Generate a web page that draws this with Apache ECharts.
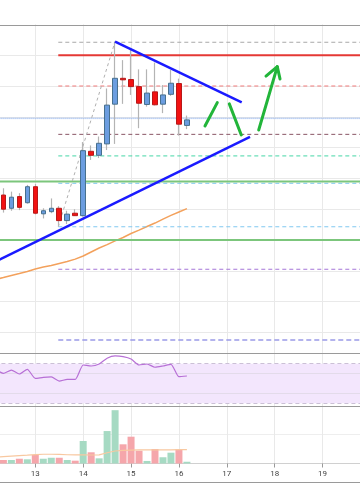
<!DOCTYPE html>
<html><head><meta charset="utf-8">
<script src="https://cdn.jsdelivr.net/npm/echarts@6/dist/echarts.min.js"></script>
<style>html,body{margin:0;padding:0;background:#fff}#c{width:360px;height:504px}</style>
</head><body><div id="c"></div>
<script>
// ---- data (4h candles, x in days of month) ----
const candleTimes = [12.3333, 12.5, 12.6667, 12.8333, 13, 13.1667, 13.3333, 13.5, 13.6667, 13.8333,
  14, 14.1667, 14.3333, 14.5, 14.6667, 14.8333, 15, 15.1667, 15.3333, 15.5, 15.6667, 15.8333, 16, 16.1667];
const opens  = [6546, 6503, 6541, 6521, 6573, 6485, 6492, 6503, 6463, 6487, 6479, 6688, 6675, 6712, 6841, 6925, 6921, 6898, 6840, 6881, 6841, 6873, 6908, 6772];
const closes = [6500, 6539, 6506, 6573, 6487, 6495, 6503, 6463, 6484, 6479, 6690, 6675, 6714, 6838, 6925, 6920, 6898, 6844, 6877, 6839, 6871, 6909, 6776, 6790];
const lows   = [6489, 6495, 6497, 6518, 6483, 6470, 6487, 6445, 6452, 6478, 6476, 6660, 6666, 6692, 6712, 6842, 6871, 6763, 6833, 6837, 6812, 6868, 6739, 6760];
const highs  = [6568, 6557, 6552, 6579, 6582, 6503, 6535, 6510, 6495, 6500, 6718, 6707, 6736, 6892, 7044, 6984, 7023, 6954, 6954, 6976, 6903, 6952, 6924, 6804];
const volumes = [36, 36, 49, 43, 87, 49, 59, 59, 36, 29, 231, 115, 53, 333, 547, 197, 275, 131, 26, 149, 64, 111, 146, 18];

// indicators include one earlier (off-screen) point
const indicatorTimes = [12.1667, 12.3333, 12.5, 12.6667, 12.8333, 13, 13.1667, 13.3333, 13.5, 13.6667, 13.8333,
  14, 14.1667, 14.3333, 14.5, 14.6667, 14.8333, 15, 15.1667, 15.3333, 15.5, 15.6667, 15.8333, 16, 16.1667];
const priceMA  = [6272, 6278, 6285, 6291, 6298, 6306, 6312, 6317, 6324, 6330, 6338, 6348, 6361, 6374, 6385, 6397, 6408, 6421, 6432, 6444, 6455, 6468, 6480, 6491, 6502];
const rsiValues = [64.4, 60.3, 63.6, 59.6, 64.3, 55.2, 56.2, 56.6, 52.5, 54.2, 54.2, 68.7, 67.7, 69.7, 75.5, 77.8, 77.1, 74.7, 68.7, 69.7, 66.4, 67.7, 69.4, 56.9, 57.6];
const volumeMA = [65, 70, 75, 80, 85, 92, 95, 95, 93, 90, 88, 88, 87, 88, 110, 128, 135, 138, 140, 140, 140, 140, 140, 142, 142];

// drawn levels
const fibStart = 13.48;
const fibLevels = [7042, 6900, 6743, 6673, 6584, 6443, 6305, 6075];
const resistanceLevel = 7000;
const supportLevels = [6590, 6400];
const currentPrice = 6795;
const rsiBand = [30, 70];
const rsiGuides = [40, 60];

// drawn lines
const trendDown = [[14.665, 7044], [17.311, 6847]];
const trendUp = [[12.0, 6317], [17.484, 6735]];
const fibDiagonal = [[13.48, 6443], [14.665, 7044]];
const arrowPaths = [
  [[16.544, 6770], [16.801, 6846]],
  [[17.052, 6842], [17.302, 6741]],
  [[17.666, 6757], [18.054, 6963]],
  [[17.818, 6932], [18.054, 6963], [18.111, 6923]]
];

// ---- styles ----
const fibStyles = [
  {color: '#a8a8a8', type: [4, 3], width: 1},
  {color: '#f07a7a', type: [4, 3], width: 1},
  {color: '#8a5565', type: [4, 3], width: 1},
  {color: '#45d6a6', type: [4, 3], width: 1},
  {color: '#80c8f0', type: [4, 3], width: 1},
  {color: '#80c8f0', type: [4, 3], width: 1},
  {color: '#a575d8', type: [4, 3], width: 1},
  {color: '#9a9ae8', type: [5, 3], width: 1.5}
];

const chart = echarts.init(document.getElementById('c'), null, {renderer: 'canvas'});
const GL = -12.58, GW = 383.04;
const gridLine = '#e9e9e9';

function xAxisCfg(idx, showLabels) {
  return {
    type: 'value', gridIndex: idx, min: 12, max: 20, interval: 1,
    axisLine: {show: showLabels, lineStyle: {color: '#d0d0d0'}},
    axisTick: {show: showLabels, length: 4, lineStyle: {color: '#999'}},
    axisLabel: {show: showLabels, fontSize: 8, color: '#444', margin: 6, fontFamily: 'Roboto'},
    splitLine: {show: true, lineStyle: {color: gridLine, width: 1}}
  };
}

const series = [];
// wicks
series.push({
  type: 'candlestick', xAxisIndex: 0, yAxisIndex: 0, barWidth: 1, z: 3,
  data: candleTimes.map((t, i) => [t, opens[i], closes[i], lows[i], highs[i]]),
  itemStyle: {color: '#b4b4b4', color0: '#b4b4b4', borderColor: '#b4b4b4', borderColor0: '#b4b4b4', borderWidth: 1.2}
});
// bodies
series.push({
  type: 'candlestick', xAxisIndex: 0, yAxisIndex: 0, barWidth: 5, z: 4,
  data: candleTimes.map((t, i) => [t, opens[i], closes[i], Math.min(opens[i], closes[i]), Math.max(opens[i], closes[i])]),
  itemStyle: {color: '#6b9de0', color0: '#f21212', borderColor: '#47708e', borderColor0: '#b81818', borderWidth: 1}
});
// price MA
series.push({
  type: 'line', xAxisIndex: 0, yAxisIndex: 0, showSymbol: false, z: 2,
  data: indicatorTimes.map((t, i) => [t, priceMA[i]]),
  lineStyle: {color: '#f3a15c', width: 1.5}
});
// fib levels
fibLevels.forEach((lv, k) => series.push({
  type: 'line', xAxisIndex: 0, yAxisIndex: 0, showSymbol: false, z: 2, silent: true,
  data: [[fibStart, lv], [20, lv]], lineStyle: fibStyles[k]
}));
// resistance
series.push({
  type: 'line', xAxisIndex: 0, yAxisIndex: 0, showSymbol: false, z: 2,
  data: [[fibStart, resistanceLevel], [20, resistanceLevel]], lineStyle: {color: '#e53935', width: 2}
});
// supports
supportLevels.forEach(lv => series.push({
  type: 'line', xAxisIndex: 0, yAxisIndex: 0, showSymbol: false, z: 2,
  data: [[12, lv], [20, lv]], lineStyle: {color: '#7cc67c', width: 2}
}));
// current price
series.push({
  type: 'line', xAxisIndex: 0, yAxisIndex: 0, showSymbol: false, z: 2,
  data: [[12, currentPrice], [20, currentPrice]], lineStyle: {color: '#8db0ea', width: 1.5, type: [1, 1]}
});
// fib diagonal
series.push({
  type: 'line', xAxisIndex: 0, yAxisIndex: 0, showSymbol: false, z: 2,
  data: fibDiagonal, lineStyle: {color: '#b0b0b0', width: 1, type: [3, 3]}
});
// trend lines
[trendDown, trendUp].forEach(tl => series.push({
  type: 'line', xAxisIndex: 0, yAxisIndex: 0, showSymbol: false, z: 6,
  data: tl, lineStyle: {color: '#1a1aff', width: 2.5}
}));
// green arrows
arrowPaths.forEach(p => series.push({
  type: 'line', xAxisIndex: 0, yAxisIndex: 0, showSymbol: false, z: 7,
  data: p, lineStyle: {color: '#22b53a', width: 3, cap: 'round', join: 'round'}
}));
// RSI
series.push({
  type: 'line', xAxisIndex: 1, yAxisIndex: 1, showSymbol: false, z: 5, smooth: 0.2,
  data: indicatorTimes.map((t, i) => [t, rsiValues[i]]),
  lineStyle: {color: '#b76fd6', width: 1.2},
  markArea: {silent: true, itemStyle: {color: '#f3e6fd'}, data: [[{yAxis: rsiBand[0]}, {yAxis: rsiBand[1]}]]},
  markLine: {
    silent: true, symbol: ['none', 'none'], label: {show: false}, animation: false,
    data: [
      {yAxis: rsiBand[0], lineStyle: {color: '#cbc0d6', type: [4, 3], width: 1}},
      {yAxis: rsiBand[1], lineStyle: {color: '#cbc0d6', type: [4, 3], width: 1}},
      {yAxis: rsiGuides[0], lineStyle: {color: '#e3dbea', type: 'solid', width: 1}},
      {yAxis: rsiGuides[1], lineStyle: {color: '#e3dbea', type: 'solid', width: 1}}
    ]
  }
});
// volume
series.push({
  type: 'bar', xAxisIndex: 2, yAxisIndex: 2, barWidth: 7, z: 3,
  data: candleTimes.map((t, i) => ({
    value: [t, volumes[i]],
    itemStyle: {color: closes[i] >= opens[i] ? '#a6dac3' : '#f5a6ab'}
  }))
});
series.push({
  type: 'line', xAxisIndex: 2, yAxisIndex: 2, showSymbol: false, z: 4,
  data: indicatorTimes.map((t, i) => [t, volumeMA[i]]),
  lineStyle: {color: '#f8c8a0', width: 1.2}
});

const sep = y => ({type: 'line', shape: {x1: 0, y1: y, x2: 360, y2: y}, style: {stroke: '#9a9a9a', lineWidth: 1}, z: 100});

chart.setOption({
  animation: false,
  backgroundColor: '#fff',
  grid: [
    {left: GL, width: GW, top: 24.4, height: 338.8, outerBoundsMode: 'none', containLabel: false},
    {left: GL, width: GW, top: 353, height: 53, outerBoundsMode: 'none', containLabel: false},
    {left: GL, width: GW, top: 406, height: 57.5, outerBoundsMode: 'none', containLabel: false}
  ],
  xAxis: [xAxisCfg(0, false), xAxisCfg(1, false), xAxisCfg(2, true)],
  yAxis: [
    {type: 'value', gridIndex: 0, min: 6000, max: 7100, interval: 100,
     axisLine: {show: false}, axisTick: {show: false}, axisLabel: {show: false},
     splitLine: {show: true, showMinLine: false, showMaxLine: false, lineStyle: {color: gridLine}}},
    {type: 'value', gridIndex: 1, min: 27.3, max: 80.8,
     axisLine: {show: false}, axisTick: {show: false}, axisLabel: {show: false}, splitLine: {show: false}},
    {type: 'value', gridIndex: 2, min: 0, max: 590, interval: 300,
     axisLine: {show: false}, axisTick: {show: false}, axisLabel: {show: false},
     splitLine: {show: true, showMinLine: false, showMaxLine: false, lineStyle: {color: '#eeeeee'}}}
  ],
  graphic: [sep(25.5), sep(353.5), sep(406.5), sep(482.5)],
  series: series
});
</script></body></html>
